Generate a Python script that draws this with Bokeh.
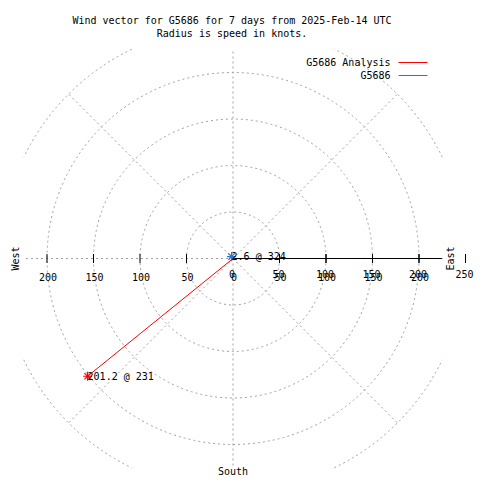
import numpy as np
from bokeh.plotting import figure
from bokeh.models import Range1d
from bokeh.core.properties import value
from bokeh.embed import file_html
from bokeh.resources import INLINE

# ---- data ----
title_lines = ["Wind vector for G5686 for 7 days from 2025-Feb-14 UTC",
               "Radius is speed in knots."]
series_names = ["G5686 Analysis", "G5686"]
series_colors = ["#ff0000", "#1e78dc"]
speeds = [[201.2], [2.6]]          # knots
directions = [[231], [324]]        # degrees
grid_radii = [50, 100, 150, 200, 250]
grid_angles = [0, 45, 90, 135, 180, 225, 270, 315]
x_ticks = [-200, -150, -100, -50, 0, 50, 100, 150, 200]
r_ticks = [0, 50, 100, 150, 200, 250]
r_max = 225
compass = {"West": 270, "East": 90, "South": 180}

# ---- layout helpers (page pixels -> data) ----
W = H = 480
OFF = 0
CX, CY, S = 232.5, 258.0, 0.93   # page centre and px per knot
def X(px): return (px - CX) / S
def Y(py): return (CY - py) / S

p = figure(width=W, height=H, output_backend="svg", toolbar_location=None,
           x_range=Range1d(X(OFF), X(OFF + W)), y_range=Range1d(Y(OFF + H), Y(OFF)),
           min_border=0)
p.axis.visible = False
p.grid.visible = False
p.outline_line_color = None
p.background_fill_color = "white"
p.border_fill_color = "white"

FONT = value("DejaVu Sans Mono")
FS = "10px"
GRID = "#a0a0a0"
DASH = "2 3"

# grid circles clipped to square |x|,|y| <= r_max
for r in grid_radii:
    if r <= r_max:
        p.circle(x=[0], y=[0], radius=r, fill_color=None, line_color=GRID,
                 line_dash=DASH, line_width=1)
    else:
        a = np.arccos(r_max / r)
        for q in range(4):
            base = q * np.pi / 2
            p.arc(x=[0], y=[0], radius=r, start_angle=base + a,
                  end_angle=base + np.pi / 2 - a, line_color=GRID,
                  line_dash=DASH, line_width=1)

# radial grid lines
for ang in grid_angles:
    t = np.radians(ang)
    rr = r_max if ang % 90 == 0 else max(grid_radii)
    p.line([0, rr * np.sin(t)], [0, rr * np.cos(t)], line_color=GRID,
           line_dash=DASH, line_width=1)

# r axis line
p.line([0, r_max], [0, 0], line_color="black", line_width=1)

# tick marks
tk = 4.5 / S
for v in x_ticks + r_ticks:
    if v != 0:
        p.segment(x0=[v], y0=[-tk], x1=[v], y1=[tk], line_color="black", line_width=1)

# tick labels: x axis
p.text(x=[v + 1 / S for v in x_ticks], y=[Y(276)] * len(x_ticks),
       text=[str(abs(v)) for v in x_ticks], text_font=FONT, text_font_size=FS,
       text_align="center", text_baseline="middle", text_color="black")
# tick labels: r axis
p.text(x=[v - 1 / S for v in r_ticks], y=[Y(273)] * len(r_ticks),
       text=[str(v) for v in r_ticks], text_font=FONT, text_font_size=FS,
       text_align="center", text_baseline="middle", text_color="black")

# compass labels
p.text(x=[X(15)], y=[Y(258)], text=["West"], angle=np.pi / 2, text_font=FONT,
       text_font_size=FS, text_align="center", text_baseline="middle")
p.text(x=[X(450)], y=[Y(258)], text=["East"], angle=np.pi / 2, text_font=FONT,
       text_font_size=FS, text_align="center", text_baseline="middle")
p.text(x=[0], y=[Y(471)], text=["South"], text_font=FONT,
       text_font_size=FS, text_align="center", text_baseline="middle")

# title
p.text(x=[X(231.5)] * 2, y=[Y(20), Y(33)], text=title_lines, text_font=FONT,
       text_font_size=FS, text_align="center", text_baseline="middle")

# series
for name, col, sp, dr in zip(series_names, series_colors, speeds, directions):
    t = np.radians(dr)
    xs = np.array(sp) * np.sin(t)
    ys = np.array(sp) * np.cos(t)
    for xx, yy in zip(xs, ys):
        p.line([0, xx], [0, yy], line_color=col, line_width=1)
    p.scatter(xs, ys, marker="asterisk", size=9, line_color=col, line_width=1.2)
    p.text(x=list(xs), y=list(ys), text=[f"{s} @ {d}" for s, d in zip(sp, dr)],
           text_font=FONT, text_font_size=FS, text_align="left",
           text_baseline="middle", text_color="black")

# legend
for i, (name, col) in enumerate(zip(series_names, series_colors)):
    ly = 62 + 13 * i
    p.text(x=[X(390)], y=[Y(ly)], text=[name], text_font=FONT, text_font_size=FS,
           text_align="right", text_baseline="middle")
    p.line([X(398), X(427)], [Y(ly), Y(ly)], line_color=col, line_width=1)

open("out.html", "w").write(file_html(p, INLINE))
